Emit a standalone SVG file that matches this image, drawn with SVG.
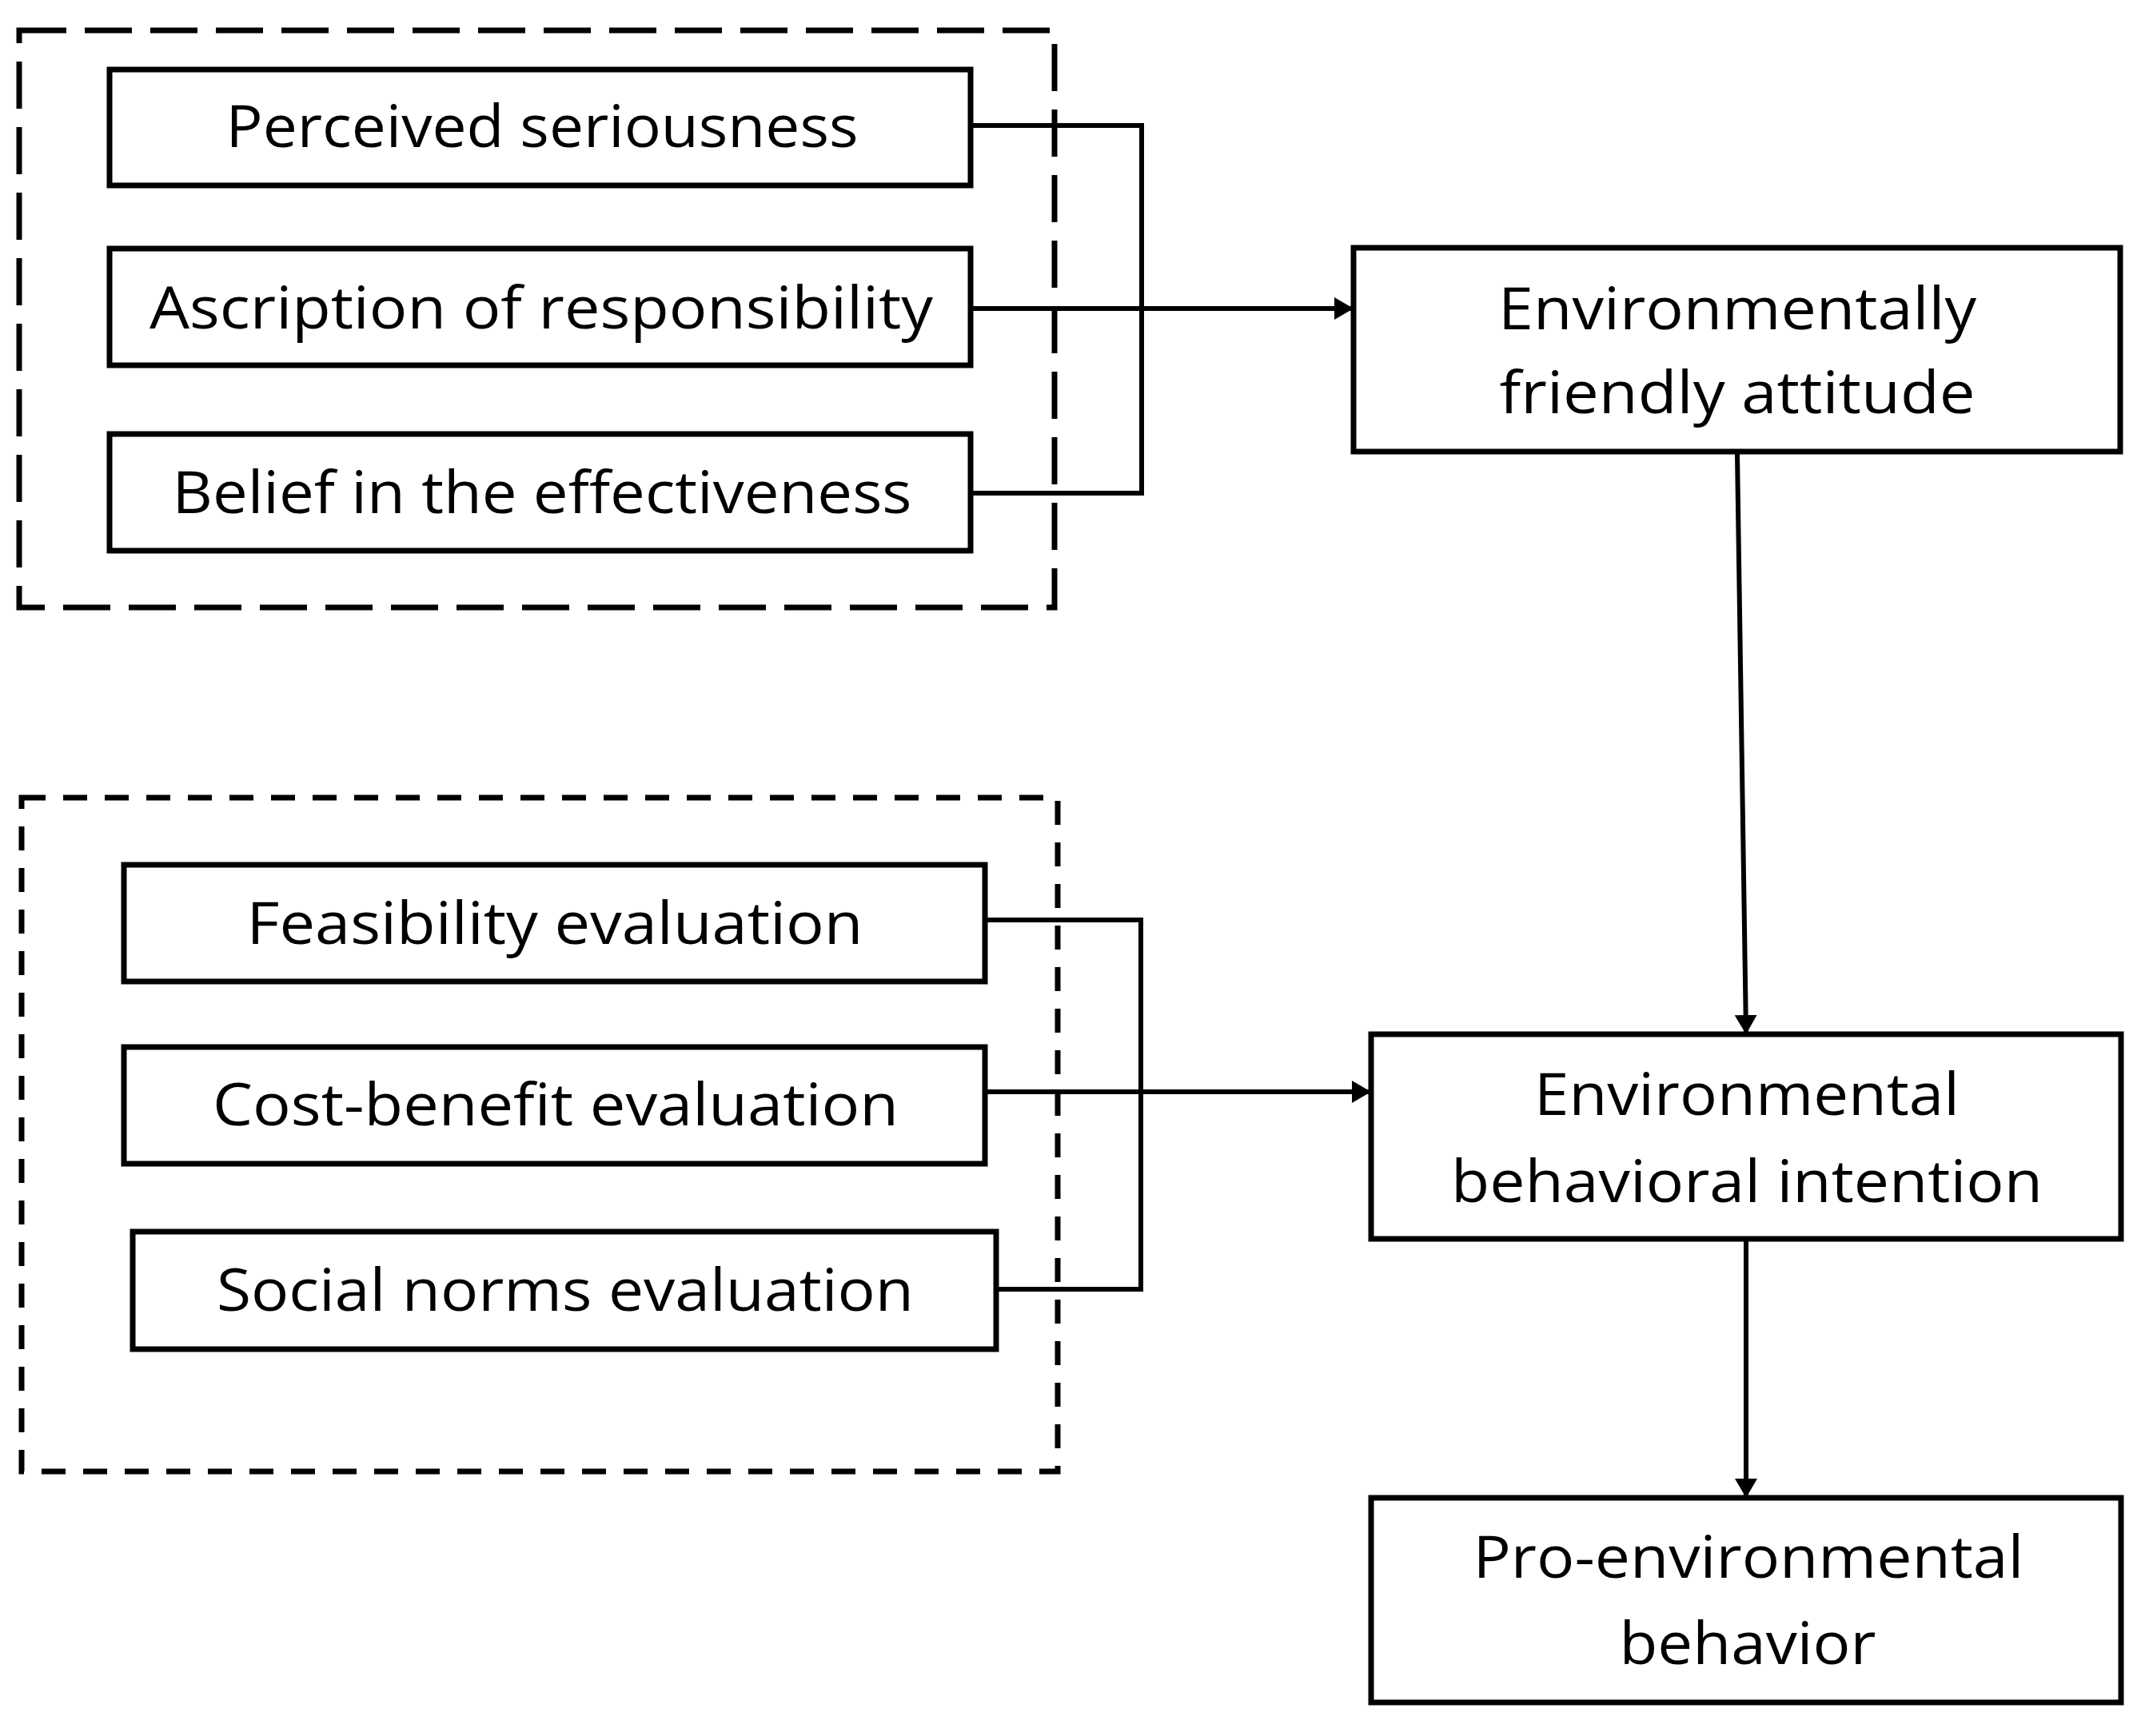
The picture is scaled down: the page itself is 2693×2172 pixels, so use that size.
<svg xmlns="http://www.w3.org/2000/svg" width="2693" height="2172" viewBox="0 0 2693 2172">
<style>
.box{fill:#fff;stroke:#000;stroke-width:7}
.grp{fill:none;stroke:#000;stroke-width:7}
.g1{stroke-dasharray:59 23}
.g2{stroke-dasharray:30 22}
.con{fill:none;stroke:#000;stroke-width:6}
.t{font-family:"Open Sans","Liberation Sans",sans-serif;font-size:74px;fill:#000;text-anchor:middle}
</style>
<defs>
<marker id="ah" markerUnits="userSpaceOnUse" markerWidth="26" markerHeight="30" refX="24" refY="14" orient="auto">
<path d="M0,0 L24,14 L0,28 z" fill="#000"/>
</marker>
</defs>
<rect width="2693" height="2172" fill="#fff"/>
<g id="groups">
<rect id="group-top" class="grp g1" x="24" y="38" width="1295" height="722"/>
<rect id="group-bottom" class="grp g2" x="27" y="998" width="1296" height="843"/>
</g>
<g id="connectors">
<path class="con" d="M1214,157 H1428 V617 H1215"/>
<path class="con" d="M1215,386 H1693" marker-end="url(#ah)"/>
<path class="con" d="M1232,1151 H1427 V1613 H1246"/>
<path class="con" d="M1232,1366 H1715" marker-end="url(#ah)"/>
<path class="con" d="M2173,568 L2184,1294" marker-end="url(#ah)"/>
<path class="con" d="M2184,1553 V1874" marker-end="url(#ah)"/>
</g>
<g id="n1"><rect class="box" x="137" y="87" width="1077" height="145"/><text class="t" x="678" y="184" textLength="791" lengthAdjust="spacingAndGlyphs">Perceived seriousness</text></g>
<g id="n2"><rect class="box" x="137" y="311" width="1077" height="146"/><text class="t" x="677" y="411" textLength="980" lengthAdjust="spacingAndGlyphs">Ascription of responsibility</text></g>
<g id="n3"><rect class="box" x="137" y="543" width="1077" height="146"/><text class="t" x="678" y="642" textLength="925" lengthAdjust="spacingAndGlyphs">Belief in the effectiveness</text></g>
<g id="n4"><rect class="box" x="155" y="1082" width="1077" height="146"/><text class="t" x="694" y="1181" textLength="771" lengthAdjust="spacingAndGlyphs">Feasibility evaluation</text></g>
<g id="n5"><rect class="box" x="155" y="1310" width="1077" height="146"/><text class="t" x="695" y="1408" textLength="858" lengthAdjust="spacingAndGlyphs">Cost-benefit evaluation</text></g>
<g id="n6"><rect class="box" x="166" y="1541" width="1080" height="147"/><text class="t" x="707" y="1640" textLength="872" lengthAdjust="spacingAndGlyphs">Social norms evaluation</text></g>
<g id="n7"><rect class="box" x="1693" y="310" width="959" height="255"/><text class="t" x="2173" y="412" textLength="598" lengthAdjust="spacingAndGlyphs">Environmentally</text><text class="t" x="2173" y="517" textLength="595" lengthAdjust="spacingAndGlyphs">friendly attitude</text></g>
<g id="n8"><rect class="box" x="1715" y="1294" width="938" height="256"/><text class="t" x="2185" y="1395" textLength="532" lengthAdjust="spacingAndGlyphs">Environmental</text><text class="t" x="2185" y="1504" textLength="740" lengthAdjust="spacingAndGlyphs">behavioral intention</text></g>
<g id="n9"><rect class="box" x="1715" y="1874" width="938" height="256"/><text class="t" x="2187" y="1974" textLength="689" lengthAdjust="spacingAndGlyphs">Pro-environmental</text><text class="t" x="2186" y="2082" textLength="321" lengthAdjust="spacingAndGlyphs">behavior</text></g>
</svg>
